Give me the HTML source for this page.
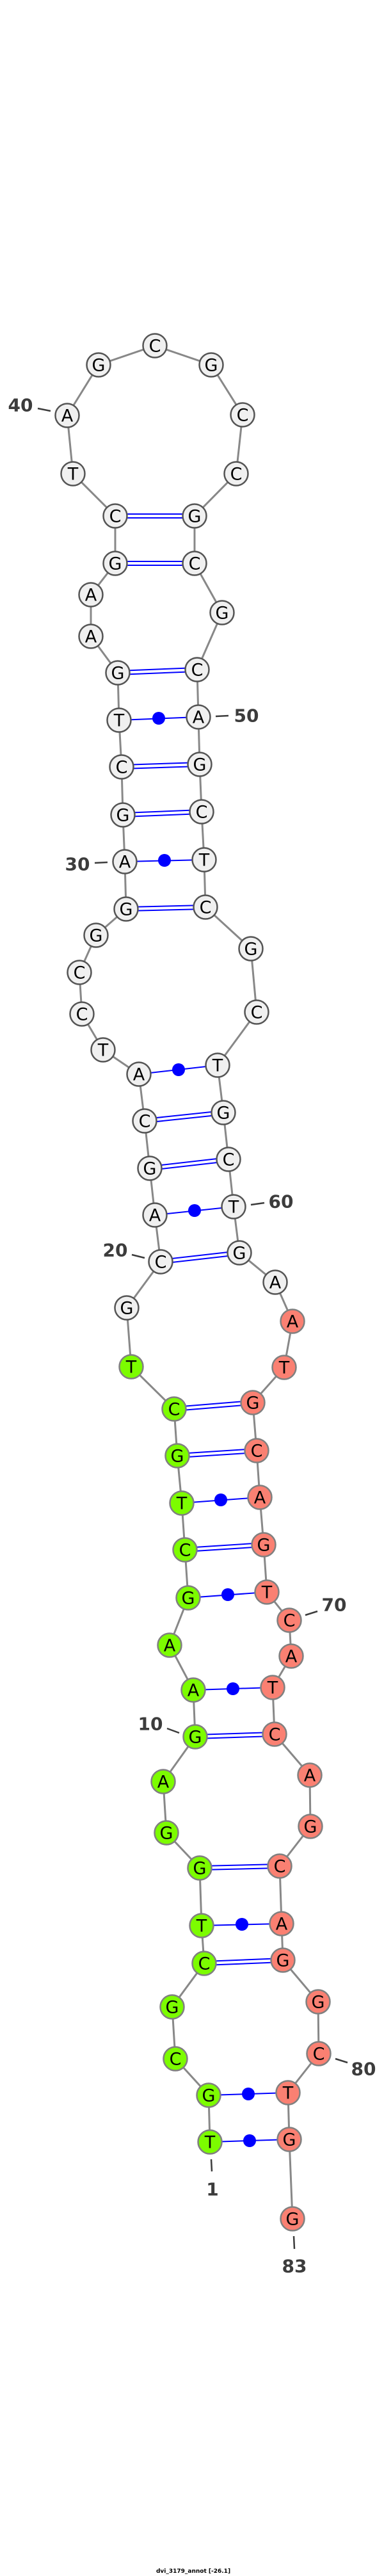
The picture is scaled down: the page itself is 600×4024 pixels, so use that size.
<!DOCTYPE html>
<html><head><meta charset="utf-8"><style>html,body{margin:0;padding:0;background:#fff}svg{display:block}
.b{stroke:#888;stroke-width:3}
.p{stroke:#00f;stroke-width:2}
.w{fill:#f0f0f0;stroke:#555;stroke-width:2.5}
.g{fill:#7cfc00;stroke:#808080;stroke-width:2.5}
.s{fill:#fa8072;stroke:#808080;stroke-width:2.5}
.n{font-family:"DejaVu Sans","Liberation Sans",sans-serif;font-size:27px;text-anchor:middle;dominant-baseline:central;fill:#000}
.l{font-family:"DejaVu Sans","Liberation Sans",sans-serif;font-weight:bold;font-size:28px;fill:#3c3c3c;text-anchor:middle;dominant-baseline:central}
.t{stroke:#3c3c3c;stroke-width:2.5}
</style></head><body>
<svg width="600" height="4024" viewBox="0 0 600 4024" xmlns="http://www.w3.org/2000/svg">
<polyline class="b" fill="none" points="328,3346 326,3273 274,3216 269,3135 319,3067 315,3008 312,2918 260,2863 255,2783 305,2713 302,2640 265,2570 294,2496 289,2421 284,2348 277,2274 272,2201 205,2135 198,2043 251,1971 242,1898 234,1825 226,1751 217,1678 161,1640 128,1584 124,1519 150,1461 197,1420 195,1346 192,1273 190,1198 186,1125 184,1051 142,994 142,929 180,880 180,806 114,740 105,649 154,570 242,540 330,570 379,648 369,740 304,806 304,880 347,957 308,1046 310,1120 312,1194 315,1268 319,1343 321,1417 392,1482 401,1581 340,1664 349,1738 357,1811 365,1885 374,1957 430,2003 457,2064 444,2136 395,2191 401,2266 406,2339 412,2413 417,2487 452,2531 455,2587 426,2636 429,2709 484,2773 485,2853 437,2915 440,3005 442,3062 497,3127 498,3208 450,3269 452,3342 457,3466"/>
<g class="p">
<line x1="180" y1="803" x2="304" y2="803"/><line x1="180" y1="809" x2="304" y2="809"/>
<line x1="180" y1="877" x2="304" y2="877"/><line x1="180" y1="883" x2="304" y2="883"/>
<line x1="184" y1="1048" x2="308" y2="1043"/><line x1="184" y1="1054" x2="308" y2="1049"/>
<line x1="186" y1="1125" x2="310" y2="1120"/>
<line x1="190" y1="1195" x2="312" y2="1191"/><line x1="190" y1="1201" x2="312" y2="1197"/>
<line x1="192" y1="1270" x2="315" y2="1265"/><line x1="192" y1="1276" x2="315" y2="1271"/>
<line x1="195" y1="1346" x2="319" y2="1343"/>
<line x1="197" y1="1417" x2="321" y2="1414"/><line x1="197" y1="1423" x2="321" y2="1420"/>
<line x1="217" y1="1678" x2="340" y2="1664"/>
<line x1="226" y1="1748" x2="349" y2="1735"/><line x1="226" y1="1754" x2="349" y2="1741"/>
<line x1="234" y1="1822" x2="357" y2="1808"/><line x1="234" y1="1828" x2="357" y2="1814"/>
<line x1="242" y1="1898" x2="365" y2="1885"/>
<line x1="251" y1="1968" x2="374" y2="1954"/><line x1="251" y1="1974" x2="374" y2="1960"/>
<line x1="272" y1="2198" x2="395" y2="2188"/><line x1="272" y1="2204" x2="395" y2="2194"/>
<line x1="277" y1="2271" x2="401" y2="2263"/><line x1="277" y1="2277" x2="401" y2="2269"/>
<line x1="284" y1="2348" x2="406" y2="2339"/>
<line x1="289" y1="2418" x2="412" y2="2410"/><line x1="289" y1="2424" x2="412" y2="2416"/>
<line x1="294" y1="2496" x2="417" y2="2487"/>
<line x1="302" y1="2640" x2="426" y2="2636"/>
<line x1="305" y1="2710" x2="429" y2="2706"/><line x1="305" y1="2716" x2="429" y2="2712"/>
<line x1="312" y1="2915" x2="437" y2="2912"/><line x1="312" y1="2921" x2="437" y2="2918"/>
<line x1="315" y1="3008" x2="440" y2="3005"/>
<line x1="319" y1="3064" x2="442" y2="3059"/><line x1="319" y1="3070" x2="442" y2="3065"/>
<line x1="326" y1="3273" x2="450" y2="3269"/>
<line x1="328" y1="3346" x2="452" y2="3342"/>
</g>
<g fill="#00f">
<circle cx="248" cy="1122" r="10"/><circle cx="257" cy="1344" r="10"/><circle cx="279" cy="1671" r="10"/><circle cx="304" cy="1891" r="10"/><circle cx="345" cy="2343" r="10"/><circle cx="356" cy="2491" r="10"/><circle cx="364" cy="2638" r="10"/><circle cx="378" cy="3006" r="10"/><circle cx="388" cy="3271" r="10"/><circle cx="390" cy="3344" r="10"/>
</g>
<g>
<circle class="g" cx="328" cy="3346" r="18.5"/><text class="n" x="328" y="3347">T</text>
<circle class="g" cx="326" cy="3273" r="18.5"/><text class="n" x="326" y="3274">G</text>
<circle class="g" cx="274" cy="3216" r="18.5"/><text class="n" x="274" y="3217">C</text>
<circle class="g" cx="269" cy="3135" r="18.5"/><text class="n" x="269" y="3136">G</text>
<circle class="g" cx="319" cy="3067" r="18.5"/><text class="n" x="319" y="3068">C</text>
<circle class="g" cx="315" cy="3008" r="18.5"/><text class="n" x="315" y="3009">T</text>
<circle class="g" cx="312" cy="2918" r="18.5"/><text class="n" x="312" y="2919">G</text>
<circle class="g" cx="260" cy="2863" r="18.5"/><text class="n" x="260" y="2864">G</text>
<circle class="g" cx="255" cy="2783" r="18.5"/><text class="n" x="255" y="2784">A</text>
<circle class="g" cx="305" cy="2713" r="18.5"/><text class="n" x="305" y="2714">G</text>
<circle class="g" cx="302" cy="2640" r="18.5"/><text class="n" x="302" y="2641">A</text>
<circle class="g" cx="265" cy="2570" r="18.5"/><text class="n" x="265" y="2571">A</text>
<circle class="g" cx="294" cy="2496" r="18.5"/><text class="n" x="294" y="2497">G</text>
<circle class="g" cx="289" cy="2421" r="18.5"/><text class="n" x="289" y="2422">C</text>
<circle class="g" cx="284" cy="2348" r="18.5"/><text class="n" x="284" y="2349">T</text>
<circle class="g" cx="277" cy="2274" r="18.5"/><text class="n" x="277" y="2275">G</text>
<circle class="g" cx="272" cy="2201" r="18.5"/><text class="n" x="272" y="2202">C</text>
<circle class="g" cx="205" cy="2135" r="18.5"/><text class="n" x="205" y="2136">T</text>
<circle class="w" cx="198" cy="2043" r="18.5"/><text class="n" x="198" y="2044">G</text>
<circle class="w" cx="251" cy="1971" r="18.5"/><text class="n" x="251" y="1972">C</text>
<circle class="w" cx="242" cy="1898" r="18.5"/><text class="n" x="242" y="1899">A</text>
<circle class="w" cx="234" cy="1825" r="18.5"/><text class="n" x="234" y="1826">G</text>
<circle class="w" cx="226" cy="1751" r="18.5"/><text class="n" x="226" y="1752">C</text>
<circle class="w" cx="217" cy="1678" r="18.5"/><text class="n" x="217" y="1679">A</text>
<circle class="w" cx="161" cy="1640" r="18.5"/><text class="n" x="161" y="1641">T</text>
<circle class="w" cx="128" cy="1584" r="18.5"/><text class="n" x="128" y="1585">C</text>
<circle class="w" cx="124" cy="1519" r="18.5"/><text class="n" x="124" y="1520">C</text>
<circle class="w" cx="150" cy="1461" r="18.5"/><text class="n" x="150" y="1462">G</text>
<circle class="w" cx="197" cy="1420" r="18.5"/><text class="n" x="197" y="1421">G</text>
<circle class="w" cx="195" cy="1346" r="18.5"/><text class="n" x="195" y="1347">A</text>
<circle class="w" cx="192" cy="1273" r="18.5"/><text class="n" x="192" y="1274">G</text>
<circle class="w" cx="190" cy="1198" r="18.5"/><text class="n" x="190" y="1199">C</text>
<circle class="w" cx="186" cy="1125" r="18.5"/><text class="n" x="186" y="1126">T</text>
<circle class="w" cx="184" cy="1051" r="18.5"/><text class="n" x="184" y="1052">G</text>
<circle class="w" cx="142" cy="994" r="18.5"/><text class="n" x="142" y="995">A</text>
<circle class="w" cx="142" cy="929" r="18.5"/><text class="n" x="142" y="930">A</text>
<circle class="w" cx="180" cy="880" r="18.5"/><text class="n" x="180" y="881">G</text>
<circle class="w" cx="180" cy="806" r="18.5"/><text class="n" x="180" y="807">C</text>
<circle class="w" cx="114" cy="740" r="18.5"/><text class="n" x="114" y="741">T</text>
<circle class="w" cx="105" cy="649" r="18.5"/><text class="n" x="105" y="650">A</text>
<circle class="w" cx="154" cy="570" r="18.5"/><text class="n" x="154" y="571">G</text>
<circle class="w" cx="242" cy="540" r="18.5"/><text class="n" x="242" y="541">C</text>
<circle class="w" cx="330" cy="570" r="18.5"/><text class="n" x="330" y="571">G</text>
<circle class="w" cx="379" cy="648" r="18.5"/><text class="n" x="379" y="649">C</text>
<circle class="w" cx="369" cy="740" r="18.5"/><text class="n" x="369" y="741">C</text>
<circle class="w" cx="304" cy="806" r="18.5"/><text class="n" x="304" y="807">G</text>
<circle class="w" cx="304" cy="880" r="18.5"/><text class="n" x="304" y="881">C</text>
<circle class="w" cx="347" cy="957" r="18.5"/><text class="n" x="347" y="958">G</text>
<circle class="w" cx="308" cy="1046" r="18.5"/><text class="n" x="308" y="1047">C</text>
<circle class="w" cx="310" cy="1120" r="18.5"/><text class="n" x="310" y="1121">A</text>
<circle class="w" cx="312" cy="1194" r="18.5"/><text class="n" x="312" y="1195">G</text>
<circle class="w" cx="315" cy="1268" r="18.5"/><text class="n" x="315" y="1269">C</text>
<circle class="w" cx="319" cy="1343" r="18.5"/><text class="n" x="319" y="1344">T</text>
<circle class="w" cx="321" cy="1417" r="18.5"/><text class="n" x="321" y="1418">C</text>
<circle class="w" cx="392" cy="1482" r="18.5"/><text class="n" x="392" y="1483">G</text>
<circle class="w" cx="401" cy="1581" r="18.5"/><text class="n" x="401" y="1582">C</text>
<circle class="w" cx="340" cy="1664" r="18.5"/><text class="n" x="340" y="1665">T</text>
<circle class="w" cx="349" cy="1738" r="18.5"/><text class="n" x="349" y="1739">G</text>
<circle class="w" cx="357" cy="1811" r="18.5"/><text class="n" x="357" y="1812">C</text>
<circle class="w" cx="365" cy="1885" r="18.5"/><text class="n" x="365" y="1886">T</text>
<circle class="w" cx="374" cy="1957" r="18.5"/><text class="n" x="374" y="1958">G</text>
<circle class="w" cx="430" cy="2003" r="18.5"/><text class="n" x="430" y="2004">A</text>
<circle class="s" cx="457" cy="2064" r="18.5"/><text class="n" x="457" y="2065">A</text>
<circle class="s" cx="444" cy="2136" r="18.5"/><text class="n" x="444" y="2137">T</text>
<circle class="s" cx="395" cy="2191" r="18.5"/><text class="n" x="395" y="2192">G</text>
<circle class="s" cx="401" cy="2266" r="18.5"/><text class="n" x="401" y="2267">C</text>
<circle class="s" cx="406" cy="2339" r="18.5"/><text class="n" x="406" y="2340">A</text>
<circle class="s" cx="412" cy="2413" r="18.5"/><text class="n" x="412" y="2414">G</text>
<circle class="s" cx="417" cy="2487" r="18.5"/><text class="n" x="417" y="2488">T</text>
<circle class="s" cx="452" cy="2531" r="18.5"/><text class="n" x="452" y="2532">C</text>
<circle class="s" cx="455" cy="2587" r="18.5"/><text class="n" x="455" y="2588">A</text>
<circle class="s" cx="426" cy="2636" r="18.5"/><text class="n" x="426" y="2637">T</text>
<circle class="s" cx="429" cy="2709" r="18.5"/><text class="n" x="429" y="2710">C</text>
<circle class="s" cx="484" cy="2773" r="18.5"/><text class="n" x="484" y="2774">A</text>
<circle class="s" cx="485" cy="2853" r="18.5"/><text class="n" x="485" y="2854">G</text>
<circle class="s" cx="437" cy="2915" r="18.5"/><text class="n" x="437" y="2916">C</text>
<circle class="s" cx="440" cy="3005" r="18.5"/><text class="n" x="440" y="3006">A</text>
<circle class="s" cx="442" cy="3062" r="18.5"/><text class="n" x="442" y="3063">G</text>
<circle class="s" cx="497" cy="3127" r="18.5"/><text class="n" x="497" y="3128">G</text>
<circle class="s" cx="498" cy="3208" r="18.5"/><text class="n" x="498" y="3209">C</text>
<circle class="s" cx="450" cy="3269" r="18.5"/><text class="n" x="450" y="3270">T</text>
<circle class="s" cx="452" cy="3342" r="18.5"/><text class="n" x="452" y="3343">G</text>
<circle class="s" cx="457" cy="3466" r="18.5"/><text class="n" x="457" y="3467">G</text>
</g>
<g class="t">
<line x1="59" y1="638" x2="79" y2="642"/>
<line x1="337" y1="1119" x2="357" y2="1118"/>
<line x1="148" y1="1348" x2="168" y2="1347"/>
<line x1="392" y1="1882" x2="413" y2="1879"/>
<line x1="206" y1="1960" x2="226" y2="1965"/>
<line x1="477" y1="2523" x2="496" y2="2517"/>
<line x1="261" y1="2700" x2="280" y2="2707"/>
<line x1="524" y1="3216" x2="543" y2="3222"/>
<line x1="330" y1="3373" x2="331" y2="3392"/>
<line x1="459" y1="3493" x2="460" y2="3513"/>
</g>
<text class="l" x="32" y="633">40</text>
<text class="l" x="385" y="1118">50</text>
<text class="l" x="121" y="1350">30</text>
<text class="l" x="439" y="1877">60</text>
<text class="l" x="180" y="1953">20</text>
<text class="l" x="522" y="2507">70</text>
<text class="l" x="235" y="2693">10</text>
<text class="l" x="568" y="3232">80</text>
<text class="l" x="332" y="3420">1</text>
<text class="l" x="460" y="3540">83</text>
<text x="302" y="4019" style="font-family:'DejaVu Sans','Liberation Sans',sans-serif;font-weight:bold;font-size:9px;fill:#000;text-anchor:middle">dvi_3179_annot [-26.1]</text>
</svg>
</body></html>
